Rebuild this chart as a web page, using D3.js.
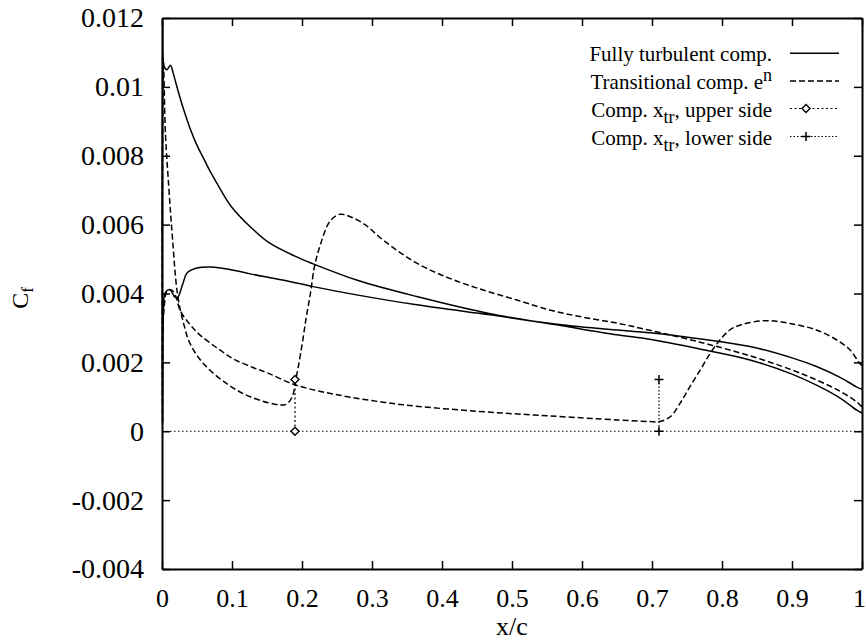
<!DOCTYPE html>
<html>
<head>
<meta charset="utf-8">
<style>
  body { margin: 0; background: #fff; }
  svg text { font-family: "Liberation Serif", "Times New Roman", serif !important; fill: #000; }
</style>
</head>
<body>
<div id="chart"></div>
<script src="https://cdnjs.cloudflare.com/ajax/libs/d3/7.8.5/d3.min.js"></script>
<script>
    // skin friction Cf along the chord
    var xTicks = [0, 0.1, 0.2, 0.3, 0.4, 0.5, 0.6, 0.7, 0.8, 0.9, 1];
    var xTickLabels = ["0", "0.1", "0.2", "0.3", "0.4", "0.5", "0.6", "0.7", "0.8", "0.9", "1"];
    var yTicks = [-0.004, -0.002, 0, 0.002, 0.004, 0.006, 0.008, 0.01, 0.012];
    var yTickLabels = ["-0.004", "-0.002", "0", "0.002", "0.004", "0.006", "0.008", "0.01", "0.012"];

    // fully turbulent, upper side [x/c, Cf]
    var turbUpper = [
        [0.001, 0.0119], [0.003, 0.0106], [0.007, 0.0105], [0.012, 0.01063], [0.016, 0.0104],
        [0.020, 0.0101], [0.030, 0.0094], [0.040, 0.0088], [0.050, 0.0083], [0.060, 0.0079],
        [0.070, 0.0075], [0.080, 0.00715], [0.090, 0.0068], [0.100, 0.0065], [0.126, 0.00594],
        [0.154, 0.00546], [0.197, 0.00502], [0.216, 0.00486], [0.278, 0.00439], [0.364, 0.00391],
        [0.469, 0.00341], [0.564, 0.00309], [0.65, 0.0028], [0.697, 0.00267], [0.77, 0.00238],
        [0.84, 0.00207], [0.90, 0.00166], [0.935, 0.00134], [0.97, 0.00095], [0.992, 0.00062],
        [1.0, 0.00053]
    ];
    // fully turbulent, lower side
    var turbLower = [
        [0.0008, 0.0003], [0.002, 0.0035], [0.004, 0.0040], [0.008, 0.0041], [0.012, 0.0041],
        [0.018, 0.0039], [0.022, 0.00388], [0.030, 0.0043], [0.036, 0.0046], [0.05, 0.00474],
        [0.07, 0.00477], [0.097, 0.0047], [0.126, 0.00457], [0.17, 0.0044], [0.216, 0.0042],
        [0.278, 0.00396], [0.364, 0.00367], [0.469, 0.00338], [0.564, 0.00311], [0.65, 0.00294],
        [0.697, 0.00286], [0.77, 0.00268], [0.84, 0.00246], [0.90, 0.00213], [0.935, 0.00188],
        [0.97, 0.00155], [0.992, 0.00129], [1.0, 0.00122]
    ];
    // transitional e^n, upper side
    var transUpper = [
        [0.002, 0.0107], [0.005, 0.0086], [0.010, 0.0070], [0.015, 0.0056], [0.022, 0.0040],
        [0.030, 0.0032], [0.040, 0.00255], [0.059, 0.00197], [0.092, 0.00139], [0.126, 0.0010],
        [0.169, 0.00076], [0.178, 0.00079], [0.186, 0.0010], [0.192, 0.00158], [0.200, 0.0025],
        [0.206, 0.0033], [0.212, 0.0040], [0.218, 0.0048], [0.226, 0.0054], [0.240, 0.0061],
        [0.254, 0.0063], [0.269, 0.00623], [0.29, 0.0060], [0.316, 0.00555], [0.364, 0.00488],
        [0.411, 0.00444], [0.459, 0.0041], [0.507, 0.00381], [0.554, 0.00352], [0.602, 0.00331],
        [0.65, 0.00314], [0.697, 0.00293], [0.77, 0.00258], [0.84, 0.00219], [0.90, 0.00178],
        [0.935, 0.00149], [0.965, 0.0012], [0.992, 0.00086], [1.0, 0.0007]
    ];
    // transitional e^n, lower side
    var transLower = [
        [0.0008, 0.0002], [0.003, 0.0036], [0.008, 0.0041], [0.014, 0.0041], [0.020, 0.0039],
        [0.026, 0.0035], [0.040, 0.0031], [0.054, 0.0028], [0.080, 0.0024], [0.102, 0.0021],
        [0.13, 0.00185], [0.15, 0.0017], [0.19, 0.00135], [0.245, 0.00108], [0.34, 0.00078],
        [0.45, 0.00058], [0.55, 0.00045], [0.65, 0.00033], [0.697, 0.00028], [0.711, 0.00028],
        [0.726, 0.00042], [0.74, 0.00081], [0.754, 0.00129], [0.769, 0.00178], [0.783, 0.00226],
        [0.797, 0.00265], [0.811, 0.00294], [0.83, 0.00311], [0.864, 0.00321], [0.897, 0.00313],
        [0.935, 0.00294], [0.964, 0.00265], [0.983, 0.00236], [0.995, 0.00202], [1.0, 0.0019]
    ];
    // computed transition locations
    var xtrUpper = [[0.19, 0.0015], [0.19, 0]];
    var xtrLower = [[0.71, 0.0015], [0.71, 0]];
    var zeroLine = [[0, 0], [1, 0]];

    var legendLabels = ["Fully turbulent comp.", "Transitional comp. e", "Comp. x", "Comp. x"];

    var width = 866, height = 640;
    var margin = {top: 18, right: 4, bottom: 71, left: 162};

    var svg = d3.select("#chart").append("svg")
        .attr("width", width)
        .attr("height", height)
        .style("display", "block");

    var x = d3.scaleLinear().domain([0, 1]).range([margin.left, width - margin.right]);
    var y = d3.scaleLinear().domain([-0.004, 0.012]).range([height - margin.bottom, margin.top]);

    var line = d3.line()
        .x(function(d) { return x(d[0]); })
        .y(function(d) { return y(d[1]); })
        .curve(d3.curveCatmullRom.alpha(0.5));

    var straight = d3.line()
        .x(function(d) { return x(d[0]); })
        .y(function(d) { return y(d[1]); });

    // axes, ticks point inwards on all four sides
    var bottomAxis = d3.axisBottom(x).tickValues(xTicks)
        .tickFormat(function(d, i) { return xTickLabels[i]; })
        .tickSizeInner(-8).tickSizeOuter(0).tickPadding(19.5);
    var leftAxis = d3.axisLeft(y).tickValues(yTicks)
        .tickFormat(function(d, i) { return yTickLabels[i]; })
        .tickSizeInner(-8).tickSizeOuter(0).tickPadding(18);
    var topAxis = d3.axisTop(x).tickValues(xTicks).tickFormat("").tickSizeInner(-8).tickSizeOuter(0);
    var rightAxis = d3.axisRight(y).tickValues(yTicks).tickFormat("").tickSizeInner(-8).tickSizeOuter(0);

    var gB = svg.append("g").attr("transform", "translate(0," + y(-0.004) + ")").call(bottomAxis);
    var gL = svg.append("g").attr("transform", "translate(" + x(0) + ",0)").call(leftAxis);
    var gT = svg.append("g").attr("transform", "translate(0," + y(0.012) + ")").call(topAxis);
    var gR = svg.append("g").attr("transform", "translate(" + x(1) + ",0)").call(rightAxis);

    [gB, gL, gT, gR].forEach(function(g) {
        g.attr("font-family", "Liberation Serif").attr("font-size", 26);
        g.select(".domain").attr("stroke", "#000").attr("stroke-width", 2);
        g.selectAll(".tick line").attr("stroke", "#000").attr("stroke-width", 1.5);
        g.selectAll("text").attr("fill", "#000");
    });
    gL.attr("font-size", 28);
    // last x label sits on the page edge
    gB.selectAll(".tick text").filter(function(d) { return d === 1; }).attr("dx", -3);

    // axis titles
    svg.append("text")
        .attr("x", x(0.5))
        .attr("y", 635)
        .attr("text-anchor", "middle")
        .attr("font-size", 26)
        .text("x/c");

    var yt = svg.append("text")
        .attr("transform", "translate(28,298) rotate(-90)")
        .attr("text-anchor", "middle")
        .attr("font-size", 24);
    yt.append("tspan").text("C");
    yt.append("tspan").attr("dy", 5).attr("font-size", 17).text("f");

    // curves
    var curves = svg.append("g").attr("fill", "none").attr("stroke", "#000");

    curves.append("path")
        .datum(zeroLine)
        .attr("d", straight)
        .attr("stroke-width", 1.2)
        .attr("stroke-dasharray", "1.5,2.5");

    curves.append("path")
        .datum(turbLower.slice().reverse().concat(turbUpper))
        .attr("d", line)
        .attr("stroke-width", 1.5);

    curves.append("path")
        .datum(transLower.slice().reverse().concat(transUpper))
        .attr("d", line)
        .attr("stroke-width", 1.5)
        .attr("stroke-dasharray", "6,3");

    curves.append("path")
        .datum(xtrUpper)
        .attr("d", straight)
        .attr("stroke-width", 1.2)
        .attr("stroke-dasharray", "2,2.5");

    curves.append("path")
        .datum(xtrLower)
        .attr("d", straight)
        .attr("stroke-width", 1.2)
        .attr("stroke-dasharray", "1.5,2");

    var diamond = "M0,-4L4,0L0,4L-4,0Z";
    var plus = "M-4.5,0H4.5M0,-4.5V4.5";

    svg.selectAll(".mk-up")
        .data(xtrUpper)
        .enter().append("path")
        .attr("class", "mk-up")
        .attr("transform", function(d) { return "translate(" + x(d[0]) + "," + y(d[1]) + ")"; })
        .attr("d", diamond)
        .attr("fill", "#fff")
        .attr("stroke", "#000")
        .attr("stroke-width", 1.4);

    svg.selectAll(".mk-lo")
        .data(xtrLower)
        .enter().append("path")
        .attr("class", "mk-lo")
        .attr("transform", function(d) { return "translate(" + x(d[0]) + "," + y(d[1]) + ")"; })
        .attr("d", plus)
        .attr("fill", "none")
        .attr("stroke", "#000")
        .attr("stroke-width", 1.5);

    // legend
    var legRows = [53.3, 81, 108.5, 136.5];
    var legX = 772, sx0 = 790, sx1 = 839, mkX = 806;
    var leg = svg.append("g").attr("font-size", 21);

    legRows.forEach(function(ry, i) {
        var t = leg.append("text")
            .attr("x", legX)
            .attr("y", ry + 8)
            .attr("text-anchor", "end");
        t.append("tspan").text(legendLabels[i]);
        if (i === 1) {
            t.append("tspan").attr("dy", -8).attr("font-size", 18).text("n");
        } else if (i >= 2) {
            t.append("tspan").attr("dy", 6).attr("font-size", 18).text("tr");
            t.append("tspan").attr("dy", -6).text(i === 2 ? ", upper side" : ", lower side");
        }
    });

    var styles = [
        {dash: null, w: 1.5},
        {dash: "6,3", w: 1.5},
        {dash: "2,2.5", w: 1.2},
        {dash: "1.5,2", w: 1.2}
    ];
    legRows.forEach(function(ry, i) {
        leg.append("line")
            .attr("x1", sx0).attr("x2", sx1)
            .attr("y1", ry).attr("y2", ry)
            .attr("stroke", "#000")
            .attr("stroke-width", styles[i].w)
            .attr("stroke-dasharray", styles[i].dash);
    });
    leg.append("path")
        .attr("transform", "translate(" + mkX + "," + legRows[2] + ")")
        .attr("d", diamond)
        .attr("fill", "#fff").attr("stroke", "#000").attr("stroke-width", 1.4);
    leg.append("path")
        .attr("transform", "translate(" + mkX + "," + legRows[3] + ")")
        .attr("d", plus)
        .attr("fill", "none").attr("stroke", "#000").attr("stroke-width", 1.5);
</script>
</body>
</html>
